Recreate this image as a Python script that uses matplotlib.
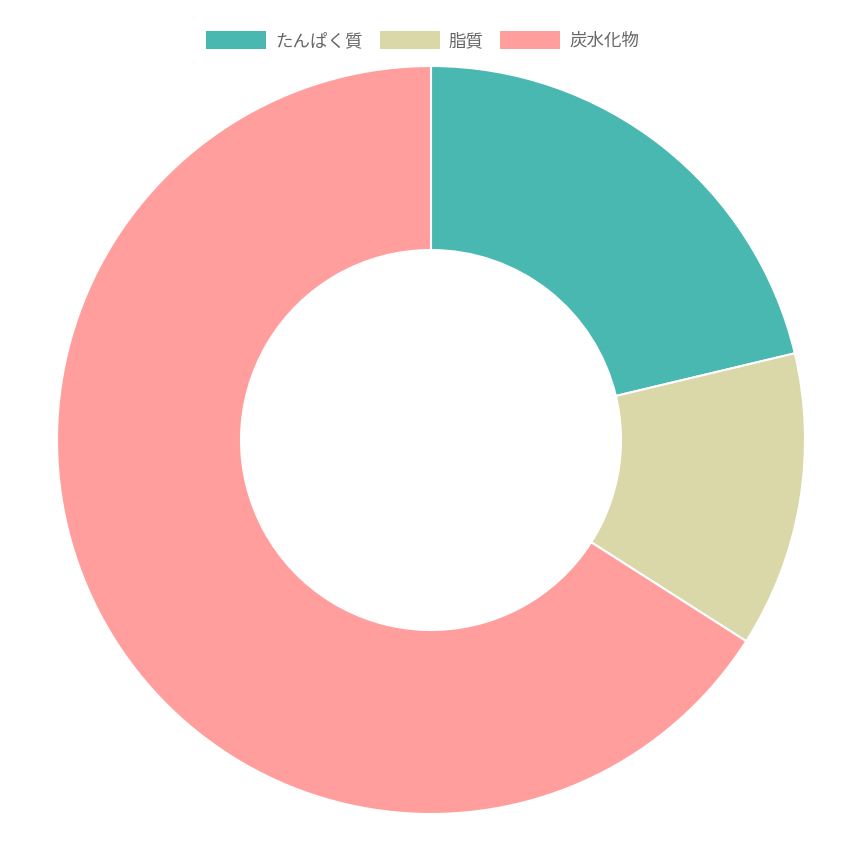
import matplotlib.pyplot as plt
from matplotlib.patches import Rectangle

plt.rcParams['font.family'] = ['Noto Sans CJK JP', 'DejaVu Sans']

labels = ['たんぱく質', '脂質', '炭水化物']
values = [20, 12, 62]
colors = ['#48B8B0', '#DAD7A8', '#FF9E9D']

W, H = 866, 850
CX, CY, R, R_IN = 431, 440, 374, 190

fig = plt.figure(figsize=(W / 100, H / 100), dpi=100)
ax = fig.add_axes([(CX - R) / W, (H - CY - R) / H, 2 * R / W, 2 * R / H])
ax.pie(values, colors=colors, startangle=90, counterclock=False, radius=1,
       wedgeprops=dict(width=(R - R_IN) / R, edgecolor='white', linewidth=1.5))
ax.set_xlim(-1, 1)
ax.set_ylim(-1, 1)
ax.axis('off')

# legend along the top
box_x = [206, 380, 500]
for x, lab, c in zip(box_x, labels, colors):
    fig.patches.append(Rectangle((x / W, 1 - 49 / H), 60 / W, 18 / H,
                                 transform=fig.transFigure, facecolor=c,
                                 edgecolor='none'))
    fig.text((x + 69) / W, 1 - 41 / H, lab, fontsize=12.6, color='#666666',
             va='center', ha='left')

fig.savefig('out.png', dpi=100, facecolor='white')
